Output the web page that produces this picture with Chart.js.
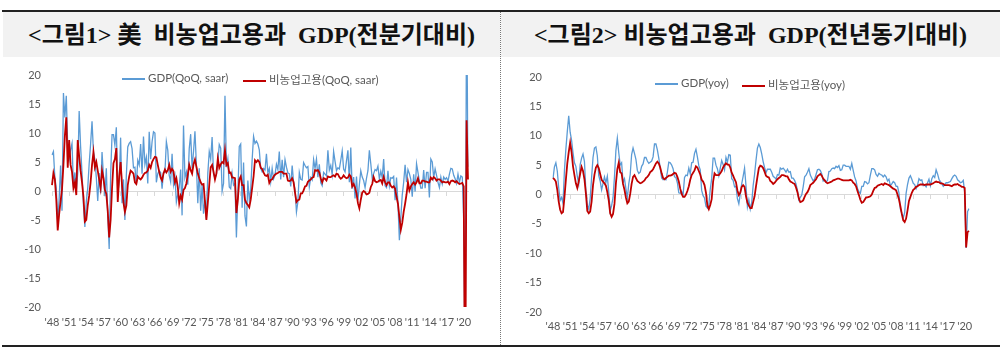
<!DOCTYPE html>
<html lang="ko">
<head>
<meta charset="utf-8">
<script src="https://cdn.jsdelivr.net/npm/chart.js@4.4.1/dist/chart.umd.min.js"></script>
<style>
  body { margin: 0; background: #fff; }
  #page { position: relative; width: 1000px; height: 353px; overflow: hidden; }
  .rule { position: absolute; left: 2px; right: 0; height: 2px; background: #222; }
  .title {
    position: absolute; top: 12px; height: 45px; background: #f2f2f2;
    font: bold 24px 'Liberation Serif', 'Noto Sans CJK KR', serif;
    line-height: 47px; text-align: center; white-space: pre; color: #111;
  }
  .divider { position: absolute; left: 500px; top: 12px; height: 333px; border-left: 1px dotted #777; }
  canvas { position: absolute; top: 57px; }
  .legend {
    position: absolute; height: 14px; line-height: 14px; white-space: nowrap;
    font: 11.5px Lato, 'Noto Sans CJK KR', sans-serif; color: #595959;
  }
  .legend i { display: inline-block; width: 23px; height: 2px; margin-right: 3px; vertical-align: middle; }
</style>
</head>
<body>
<div id="page">
  <div class="rule" style="top:10px"></div>
  <div class="title" style="left:3px;width:497px">&lt;그림1&gt; 美  비농업고용과  GDP(전분기대비)</div>
  <div class="title" style="left:501px;width:499px">&lt;그림2&gt; 비농업고용과  GDP(전년동기대비)</div>
  <div class="divider"></div>

  <canvas id="qoqChart" width="500" height="288" style="left:0"></canvas>
  <canvas id="yoyChart" width="500" height="288" style="left:500px"></canvas>

  <div class="legend" style="left:122px;top:71px"><i style="background:#5b9bd5"></i>GDP(QoQ, saar)</div>
  <div class="legend" style="left:243px;top:71px"><i style="background:#c00000"></i>비농업고용(QoQ, saar)</div>
  <div class="legend" style="left:655px;top:76px"><i style="background:#5b9bd5"></i>GDP(yoy)</div>
  <div class="legend" style="left:742px;top:76px"><i style="background:#c00000"></i>비농업고용(yoy)</div>

  <div class="rule" style="top:345px"></div>
</div>

<script>
'use strict';

// ── Data (quarterly, 1948Q1 – 2020Q4) ────────────────────────────────
const years = Array.from({ length: 73 }, (_, i) => 1948 + i);
const quarters = years.flatMap(y => [1, 2, 3, 4].map(q => `${y}Q${q}`));

const tickLabels = ["'48", "'51", "'54", "'57", "'60", "'63", "'66", "'69", "'72", "'75", "'78",
  "'81", "'84", "'87", "'90", "'93", "'96", "'99", "'02", "'05", "'08", "'11", "'14", "'17", "'20"];

// GDP, QoQ saar (%)
const gdpQoq = [
  6.2, 6.8, 2.3, 0.5, -5.4, -1.4, 4.4, -3.4, 16.9, 12.7, 16.4, 7.6, 5.5, 7.1, 8.2, 0.8, 3.2, 0.1, 3.1, 13.8,
  7.7, 3.1, -2.4, -6.2, -1.8, 0.5, 4.7, 8.1, 12.0, 6.8, 5.4, 2.3, -1.7, 3.1, -0.4, 6.7, 2.6, -0.9, 3.9, -4.1,
  -10.0, 2.6, 9.7, 9.7, 7.9, 11.0, -0.3, 1.5, 9.2, -2.1, 2.0, -5.0, 2.7, 7.6, 8.2, 8.5, 7.3, 4.0, 4.1, 1.1,
  5.3, 4.5, 8.1, 3.0, 9.4, 4.6, 5.8, 1.3, 10.2, 5.5, 8.5, 10.2, 10.0, 1.5, 3.0, 3.5, 3.2, 0.4, 3.2, 3.2,
  8.5, 7.0, 2.7, 1.6, 6.4, 1.1, 2.5, -1.9, -0.6, 0.6, 3.7, -4.2, 11.3, 2.3, 3.3, 1.1, 7.3, 9.8, 3.9, 6.8,
  10.3, 4.5, -2.1, 3.9, -3.4, 1.0, -3.9, -1.6, -4.8, 3.1, 6.8, 5.5, 9.3, 3.0, 2.2, 2.9, 4.8, 8.0, 7.4, 0.0,
  1.3, 16.4, 4.1, 5.5, 0.7, 0.4, 3.0, 1.0, 1.3, -8.0, -0.5, 7.7, 8.1, -2.9, 4.9, -4.3, -6.1, 1.8, -1.5, 0.2,
  5.4, 9.4, 8.2, 8.6, 8.1, 7.1, 3.9, 3.3, 3.9, 3.6, 6.4, 3.1, 3.9, 1.6, 3.9, 2.1, 2.8, 4.6, 3.7, 6.8,
  2.0, 5.4, 2.4, 5.4, 4.1, 3.1, 3.0, 0.8, 4.4, 1.5, 0.3, -3.6, -1.9, 3.2, 2.0, 1.9, 4.9, 4.4, 4.0, 4.2,
  0.7, 2.3, 1.9, 5.4, 3.9, 5.5, 2.4, 4.6, 1.4, 0.9, 3.2, 2.9, 2.6, 7.0, 3.6, 4.4, 2.8, 6.8, 5.1, 3.5,
  4.0, 3.8, 5.3, 6.9, 3.8, 3.3, 5.2, 7.0, 1.5, 7.5, 0.4, 2.4, -1.3, 2.5, -1.6, 1.1, 3.5, 2.4, 1.8, 0.6,
  2.2, 3.5, 7.0, 4.7, 2.2, 3.0, 3.7, 3.5, 4.3, 2.1, 3.4, 2.3, 5.5, 0.9, 0.6, 3.5, 0.9, 2.3, 2.2, 2.5,
  -1.6, 2.3, -2.1, -8.5, -4.6, -0.7, 1.5, 4.5, 1.5, 3.7, 3.0, 2.0, -1.0, 2.9, -0.1, 4.7, 3.2, 1.7, 0.5, 0.5,
  3.6, 0.5, 3.2, 3.2, -1.1, 5.5, 5.0, 2.3, 3.8, 2.7, 1.5, 0.6, 2.4, 1.2, 2.4, 2.0, 2.3, 1.7, 2.9, 3.9,
  3.8, 2.7, 2.1, 1.3, 2.9, 1.5, 2.6, 2.4, -5.1, -31.2, 33.8, 4.2,
];

// Nonfarm payrolls, QoQ saar (%)
const empQoq = [
  1.0, 3.1, 2.0, -1.5, -6.8, -4.0, -1.8, 0.3, 4.5, 9.5, 12.7, 4.0, 8.8, 4.5, 3.3, 0.5, 1.5, -0.7, 8.8, 6.0,
  3.5, 1.5, -1.0, -5.3, -5.0, -2.5, -0.8, 1.5, 4.5, 6.7, 4.1, 5.0, 3.5, 2.0, 0.5, 3.5, 2.2, 0.2, -0.5, -3.5,
  -8.0, -5.0, 0.5, 4.8, 5.5, 7.4, -1.9, 2.5, 5.0, 1.0, -2.0, -3.6, -2.5, 1.0, 2.5, 3.5, 3.3, 3.0, 1.5, 1.2,
  2.5, 2.2, 2.0, 2.3, 2.8, 3.1, 3.2, 3.5, 4.5, 4.0, 5.0, 5.5, 5.9, 5.8, 4.5, 3.3, 2.3, 1.8, 3.0, 3.7,
  3.2, 3.6, 4.5, 3.3, 3.8, 3.4, 1.5, 2.2, 0.6, -2.1, -0.8, -1.5, 0.2, 0.5, 1.3, 2.8, 4.5, 3.6, 3.0, 4.6,
  5.4, 4.2, 3.0, 2.2, 1.5, 1.1, 1.2, -1.8, -5.0, -2.0, 1.0, 4.1, 4.5, 3.3, 2.0, 3.0, 5.6, 4.0, 4.6, 5.0,
  4.8, 7.0, 4.5, 4.8, 3.1, 3.2, 2.3, 2.3, 2.2, -3.8, -1.5, 2.0, 2.5, 1.0, 1.0, -1.5, -2.1, -2.4, -2.8, -1.5,
  0.5, 2.5, 5.3, 5.0, 5.3, 5.0, 4.0, 3.8, 3.2, 2.7, 2.6, 2.8, 1.4, 1.9, 2.0, 2.5, 2.8, 3.0, 3.1, 3.3,
  3.3, 3.3, 3.0, 3.0, 3.0, 1.8, 1.7, 1.8, 2.2, 1.5, -0.3, -1.9, -1.6, -1.5, -0.4, -0.4, 0.1, 0.8, 0.9, 1.6,
  1.8, 2.0, 2.3, 2.4, 3.6, 3.5, 3.6, 3.2, 2.2, 1.5, 2.2, 2.1, 1.8, 2.5, 2.4, 2.4, 2.6, 2.7, 2.5, 3.0,
  2.9, 2.4, 2.1, 2.3, 2.7, 2.4, 2.2, 2.3, 2.8, 2.5, 0.8, 1.2, 0.6, -0.4, -2.1, -3.0, -1.5, -0.3, 0.0, -0.2,
  -0.6, -0.5, -0.3, 0.7, 1.2, 2.4, 1.7, 1.5, 1.6, 1.8, 1.9, 1.3, 2.4, 1.5, 1.0, 1.5, 1.5, 0.9, 0.6, 0.8,
  0.4, -1.0, -2.2, -4.5, -6.7, -5.5, -3.6, -2.2, -0.6, 1.5, 0.1, 0.8, 1.2, 1.5, 1.1, 1.5, 2.2, 1.3, 1.3, 1.8,
  1.8, 1.6, 1.6, 1.5, 1.5, 2.3, 2.0, 2.4, 2.2, 1.8, 2.0, 2.0, 1.8, 1.5, 1.6, 1.5, 1.5, 1.6, 1.2, 1.7,
  1.8, 1.7, 1.5, 1.7, 1.4, 1.2, 1.3, 1.4, 0.8, -40.0, 12.2, 2.0,
];

// GDP, yoy (%)
const gdpYoy = [
  2.7, 4.7, 5.4, 4.0, 1.1, -1.0, -0.5, -1.5, 4.1, 7.7, 10.7, 13.4, 10.6, 9.2, 7.1, 5.4, 4.8, 3.1, 1.8, 5.1,
  6.2, 6.9, 5.6, 0.6, -1.8, -2.5, -0.7, 2.9, 6.3, 7.9, 8.1, 6.6, 3.2, 2.3, 0.8, 1.9, 3.0, 2.0, 3.1, 0.4,
  -2.8, -1.9, -0.5, 3.0, 7.5, 9.6, 7.1, 5.0, 5.4, 2.1, 2.7, 1.0, -0.6, 1.8, 3.4, 6.8, 7.9, 7.0, 6.0, 4.1,
  3.6, 3.8, 4.8, 5.2, 6.3, 6.3, 5.7, 5.3, 5.5, 5.7, 6.4, 8.6, 8.6, 7.6, 6.2, 4.5, 2.8, 2.5, 2.6, 2.5,
  3.8, 5.5, 5.4, 5.0, 4.4, 3.0, 2.9, 2.0, 0.3, 0.2, 0.5, -0.1, 2.9, 3.3, 3.2, 4.5, 3.5, 5.4, 5.5, 7.0,
  7.7, 6.4, 4.9, 4.2, 0.7, -0.2, -0.6, -2.0, -2.3, -1.8, 0.9, 2.7, 6.2, 6.2, 5.0, 4.4, 3.2, 4.5, 5.8, 5.1,
  4.2, 6.3, 5.5, 6.8, 6.7, 2.7, 2.4, 1.3, 1.4, -0.7, -1.6, 0.1, 1.8, 3.1, 4.5, 1.5, -2.1, -0.9, -2.5, -1.4,
  1.5, 3.4, 5.8, 7.9, 8.6, 8.0, 6.9, 5.6, 4.6, 3.7, 4.3, 4.3, 4.3, 3.8, 3.1, 2.9, 2.6, 3.4, 3.3, 4.5,
  4.3, 4.5, 4.2, 3.8, 4.3, 3.8, 3.9, 2.8, 2.8, 2.4, 1.8, 0.7, -0.9, -0.5, -0.1, 1.3, 3.0, 3.3, 3.8, 4.4,
  3.3, 2.8, 2.3, 2.6, 3.4, 4.2, 4.3, 4.1, 3.5, 2.3, 2.5, 2.1, 2.4, 3.9, 4.0, 4.4, 4.5, 4.4, 4.8, 4.6,
  4.9, 4.1, 4.2, 5.0, 5.0, 4.8, 4.8, 4.8, 4.3, 5.3, 4.1, 3.0, 2.3, 1.0, 0.5, 0.2, 1.4, 1.4, 2.2, 2.1,
  1.8, 2.0, 3.3, 4.4, 4.4, 4.2, 3.4, 3.1, 3.6, 3.4, 3.3, 3.0, 3.3, 3.0, 2.3, 2.6, 1.5, 1.8, 2.2, 2.0,
  1.4, 1.4, 0.3, -2.5, -3.2, -4.0, -3.1, 0.2, 1.7, 2.8, 3.2, 2.6, 1.9, 1.7, 1.0, 1.6, 2.7, 2.4, 2.5, 1.5,
  1.6, 1.3, 2.0, 2.6, 1.5, 2.7, 3.2, 2.9, 4.2, 3.5, 2.6, 2.2, 1.8, 1.4, 1.7, 2.0, 2.0, 2.1, 2.2, 2.7,
  3.1, 3.3, 3.1, 2.5, 2.3, 2.0, 2.1, 2.4, 0.3, -9.1, -2.9, -2.4,
];

// Nonfarm payrolls, yoy (%)
const empYoy = [
  2.8, 2.6, 2.2, 0.8, -1.2, -2.6, -3.2, -3.0, -0.5, 2.5, 5.3, 7.2, 8.8, 7.2, 4.8, 3.3, 1.9, 1.1, 2.2, 3.5,
  4.7, 4.0, 2.6, 0.2, -2.8, -3.2, -2.9, -1.2, 1.6, 3.4, 4.6, 5.0, 4.5, 3.5, 2.5, 2.2, 1.9, 1.5, 0.4, -1.0,
  -3.2, -3.8, -3.3, -1.6, 1.9, 4.3, 5.4, 3.8, 3.6, 1.8, 0.8, -0.5, -1.5, -1.2, 0.1, 1.8, 3.0, 3.3, 2.8, 2.3,
  2.1, 1.9, 2.0, 2.2, 2.4, 2.8, 3.0, 3.3, 3.8, 4.0, 4.3, 4.8, 5.3, 5.6, 5.3, 4.6, 3.6, 2.8, 2.6, 2.8,
  3.0, 3.2, 3.2, 3.3, 3.5, 3.7, 3.6, 3.0, 2.2, 1.0, 0.1, -0.4, -0.4, 0.0, 0.6, 1.4, 2.5, 3.3, 3.7, 4.1,
  4.8, 4.6, 4.0, 3.4, 2.5, 2.2, 1.6, 0.3, -1.9, -2.5, -1.8, -0.8, 2.2, 3.6, 3.3, 3.3, 3.3, 3.6, 4.0, 4.6,
  5.0, 5.3, 5.1, 5.1, 4.6, 3.7, 3.2, 2.6, 2.1, 0.7, -0.1, 0.3, 1.3, 1.6, 1.3, -0.3, -1.4, -1.9, -2.3, -2.3,
  -1.3, -0.3, 1.4, 3.0, 4.5, 4.9, 4.8, 4.5, 3.9, 3.2, 3.0, 2.9, 2.3, 2.1, 1.8, 2.0, 2.3, 2.6, 2.8, 3.0,
  3.3, 3.3, 3.2, 3.1, 3.1, 2.6, 2.2, 2.1, 1.9, 1.8, 1.2, 0.4, -0.7, -1.3, -1.2, -1.0, -0.4, 0.1, 0.4, 0.9,
  1.6, 1.8, 2.0, 2.3, 2.6, 3.1, 3.3, 3.5, 3.2, 2.7, 2.4, 2.1, 1.9, 2.0, 2.1, 2.2, 2.4, 2.5, 2.6, 2.7,
  2.7, 2.6, 2.5, 2.4, 2.4, 2.4, 2.4, 2.4, 2.5, 2.4, 2.0, 1.8, 1.4, 0.6, -0.1, -0.9, -1.4, -1.3, -0.9, -0.5,
  -0.5, -0.4, -0.3, 0.0, 0.6, 1.1, 1.2, 1.5, 1.6, 1.7, 1.8, 1.6, 1.9, 1.8, 1.7, 1.6, 1.4, 1.2, 1.0, 0.9,
  0.7, 0.0, -0.8, -2.0, -3.3, -4.4, -4.7, -4.1, -2.7, -1.1, -0.4, 0.3, 0.8, 1.0, 1.3, 1.4, 1.6, 1.7, 1.7, 1.7,
  1.6, 1.7, 1.7, 1.7, 1.7, 1.8, 1.9, 2.1, 2.2, 2.1, 2.1, 1.9, 1.9, 1.8, 1.6, 1.6, 1.6, 1.6, 1.5, 1.4,
  1.6, 1.7, 1.7, 1.8, 1.6, 1.5, 1.3, 1.3, 1.1, -9.0, -6.4, -6.2,
];

// ── Style ────────────────────────────────────────────────────────────
const BLUE = '#5b9bd5';
const RED  = '#c00000';
const TEXT = '#595959';
const ZERO = '#d9d9d9';
const TICK_FONT = { family: "Lato, 'Noto Sans CJK KR', sans-serif", size: 11 };

Chart.defaults.font.family = TICK_FONT.family;

// keep one tick every 3 years (12 quarters)
const everyThirdYear = scale => {
  scale.ticks = scale.ticks.filter(t => t.value % 12 === 0);
};

// box: plot-area geometry inside the 500x288 canvas
function buildChart(id, gdp, emp, box) {
  return new Chart(document.getElementById(id), {
    type: 'line',
    data: {
      labels: quarters,
      datasets: [
        { label: 'GDP', data: gdp, borderColor: BLUE, backgroundColor: BLUE, borderWidth: 1.3, order: 2 },
        { label: '비농업고용', data: emp, borderColor: RED, backgroundColor: RED, borderWidth: 1.8, order: 1 },
      ],
    },
    options: {
      responsive: false,
      animation: false,
      layout: { padding: { top: box.top, right: box.right, bottom: 0, left: 0 } },
      elements: { point: { radius: 0 }, line: { tension: 0 } },
      plugins: { legend: { display: false }, tooltip: { enabled: false } },
      scales: {
        x: {
          type: 'category',
          afterBuildTicks: everyThirdYear,
          afterFit: s => { s.height = box.axisH; },
          grid: { display: false, drawTicks: false },
          border: { display: false },
          ticks: {
            autoSkip: false, maxRotation: 0, padding: box.labelPad,
            color: TEXT, font: TICK_FONT,
            callback: (v) => tickLabels[v / 12],
          },
        },
        zero: {
          type: 'category',
          axis: 'x',
          position: { y: 0 },
          afterBuildTicks: everyThirdYear,
          grid: { drawOnChartArea: false, drawTicks: true, tickLength: 4, color: ZERO },
          border: { display: true, color: ZERO, width: 1 },
          ticks: { display: false, autoSkip: false },
        },
        y: {
          min: -20,
          max: 20,
          afterFit: s => { s.width = box.left; },
          grid: { display: false, drawTicks: false },
          border: { display: false },
          ticks: { stepSize: 5, padding: 11, color: TEXT, font: TICK_FONT },
        },
      },
    },
  });
}

buildChart('qoqChart', gdpQoq, empQoq, { left: 52, right: 32, top: 18, axisH: 38, labelPad: 9 });
buildChart('yoyChart', gdpYoy, empYoy, { left: 53, right: 31, top: 20, axisH: 33, labelPad: 8 });
</script>
</body>
</html>
